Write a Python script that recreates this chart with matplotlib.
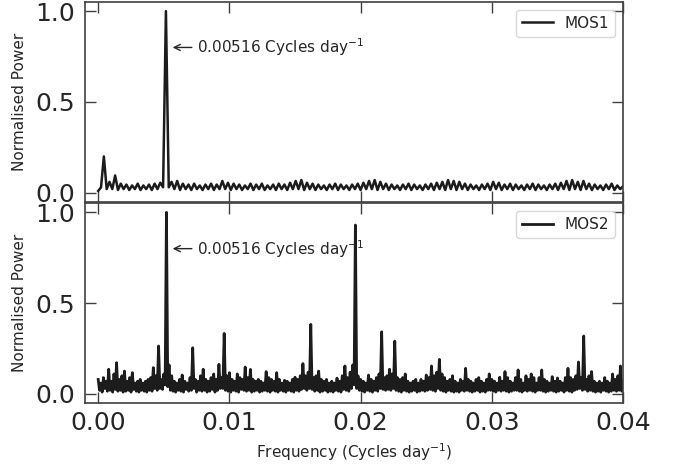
import numpy as np
import matplotlib
matplotlib.use('Agg')
import matplotlib.pyplot as plt

# MOS1 periodogram, sampled every 0.000215 cycles/day
mos1_step = 0.000215
mos1_power = [
    0.01, 0.03, 0.20, 0.02, 0.06, 0.02, 0.095, 0.015, 0.05, 0.02,
    0.045, 0.015, 0.04, 0.02, 0.05, 0.015, 0.04, 0.02, 0.045, 0.015,
    0.05, 0.02, 0.055, 0.03, 1.00, 0.03, 0.06, 0.02, 0.065, 0.015,
    0.05, 0.02, 0.045, 0.015, 0.05, 0.02, 0.04, 0.015, 0.045, 0.02,
    0.05, 0.015, 0.045, 0.02, 0.065, 0.02, 0.055, 0.015, 0.05, 0.02,
    0.045, 0.015, 0.04, 0.02, 0.05, 0.015, 0.045, 0.02, 0.05, 0.015,
    0.04, 0.02, 0.045, 0.015, 0.05, 0.02, 0.045, 0.015, 0.055, 0.02,
    0.065, 0.02, 0.07, 0.015, 0.055, 0.02, 0.05, 0.015, 0.045, 0.02,
    0.04, 0.015, 0.045, 0.02, 0.05, 0.015, 0.045, 0.02, 0.04, 0.015,
    0.045, 0.02, 0.05, 0.015, 0.055, 0.02, 0.065, 0.02, 0.07, 0.015,
    0.06, 0.02, 0.05, 0.015, 0.045, 0.02, 0.04, 0.015, 0.045, 0.02,
    0.05, 0.015, 0.045, 0.02, 0.04, 0.015, 0.045, 0.02, 0.05, 0.015,
    0.055, 0.02, 0.06, 0.015, 0.07, 0.02, 0.065, 0.015, 0.06, 0.02,
    0.05, 0.015, 0.045, 0.02, 0.04, 0.015, 0.045, 0.02, 0.05, 0.015,
    0.06, 0.02, 0.055, 0.015, 0.045, 0.02, 0.05, 0.015, 0.045, 0.02,
    0.04, 0.015, 0.045, 0.02, 0.05, 0.015, 0.045, 0.02, 0.04, 0.015,
    0.045, 0.02, 0.05, 0.015, 0.055, 0.02, 0.065, 0.015, 0.07, 0.02,
    0.06, 0.015, 0.065, 0.02, 0.05, 0.015, 0.045, 0.02, 0.04, 0.015,
    0.045, 0.02, 0.05, 0.015, 0.04, 0.02, 0.035,
]

# MOS2 periodogram, local maxima every 0.0002 and minima in between
mos2_step = 0.0001
mos2_hi = [
    0.08, 0.06, 0.09, 0.07, 0.136, 0.07, 0.11, 0.172, 0.08, 0.10,
    0.126, 0.07, 0.09, 0.117, 0.06, 0.07, 0.08, 0.06, 0.07, 0.08,
    0.09, 0.145, 0.10, 0.264, 0.08, 0.11, 1.00, 0.16, 0.10, 0.07,
    0.06, 0.08, 0.104, 0.07, 0.06, 0.09, 0.254, 0.08, 0.07, 0.10,
    0.136, 0.08, 0.07, 0.09, 0.11, 0.08, 0.163, 0.09, 0.333, 0.10,
    0.117, 0.08, 0.07, 0.11, 0.09, 0.08, 0.148, 0.09, 0.135, 0.08,
    0.07, 0.08, 0.07, 0.06, 0.123, 0.09, 0.08, 0.07, 0.117, 0.08,
    0.06, 0.075, 0.07, 0.06, 0.08, 0.092, 0.08, 0.10, 0.167, 0.10,
    0.12, 0.383, 0.09, 0.10, 0.126, 0.08, 0.07, 0.08, 0.06, 0.07,
    0.06, 0.087, 0.07, 0.10, 0.154, 0.09, 0.12, 0.16, 0.93, 0.10,
    0.08, 0.07, 0.06, 0.104, 0.08, 0.07, 0.09, 0.11, 0.342, 0.09,
    0.10, 0.136, 0.11, 0.291, 0.09, 0.08, 0.09, 0.11, 0.07, 0.06,
    0.07, 0.08, 0.06, 0.08, 0.07, 0.104, 0.09, 0.154, 0.10, 0.12,
    0.19, 0.11, 0.09, 0.07, 0.08, 0.10, 0.07, 0.06, 0.08, 0.07,
    0.141, 0.08, 0.07, 0.06, 0.08, 0.09, 0.07, 0.06, 0.08, 0.11,
    0.08, 0.07, 0.06, 0.092, 0.07, 0.123, 0.09, 0.07, 0.06, 0.09,
    0.132, 0.08, 0.06, 0.10, 0.08, 0.11, 0.09, 0.06, 0.09, 0.132,
    0.08, 0.07, 0.06, 0.095, 0.07, 0.088, 0.07, 0.06, 0.09, 0.141,
    0.09, 0.08, 0.10, 0.176, 0.09, 0.319, 0.08, 0.10, 0.123, 0.07,
    0.06, 0.07, 0.06, 0.09, 0.07, 0.06, 0.11, 0.08, 0.10, 0.154,
    0.07,
]
mos2_lo = [
    0.02, 0.01, 0.03, 0.015, 0.02, 0.01, 0.025, 0.015, 0.02, 0.01,
    0.015, 0.02, 0.01, 0.025, 0.015, 0.01, 0.02, 0.015, 0.01, 0.02,
    0.015, 0.03, 0.02, 0.03, 0.025, 0.05, 0.04, 0.02, 0.015, 0.01,
    0.02, 0.015, 0.01, 0.025, 0.015, 0.02, 0.03, 0.01, 0.02, 0.015,
    0.02, 0.01, 0.015, 0.025, 0.01, 0.02, 0.03, 0.03, 0.02, 0.015,
    0.01, 0.02, 0.015, 0.01, 0.025, 0.02, 0.015, 0.02, 0.01, 0.015,
    0.02, 0.01, 0.015, 0.02, 0.015, 0.01, 0.02, 0.015, 0.01, 0.02,
    0.015, 0.01, 0.02, 0.015, 0.01, 0.02, 0.015, 0.025, 0.03, 0.02,
    0.03, 0.025, 0.015, 0.02, 0.01, 0.015, 0.02, 0.01, 0.015, 0.01,
    0.02, 0.015, 0.01, 0.025, 0.02, 0.015, 0.03, 0.05, 0.03, 0.02,
    0.015, 0.01, 0.02, 0.015, 0.01, 0.02, 0.015, 0.03, 0.025, 0.02,
    0.025, 0.02, 0.03, 0.02, 0.015, 0.01, 0.02, 0.015, 0.01, 0.015,
    0.02, 0.01, 0.015, 0.02, 0.015, 0.02, 0.025, 0.02, 0.015, 0.03,
    0.02, 0.015, 0.01, 0.02, 0.015, 0.01, 0.015, 0.01, 0.02, 0.015,
    0.02, 0.015, 0.01, 0.015, 0.02, 0.01, 0.015, 0.01, 0.02, 0.02,
    0.015, 0.01, 0.02, 0.015, 0.02, 0.015, 0.01, 0.015, 0.02, 0.02,
    0.015, 0.01, 0.02, 0.015, 0.02, 0.015, 0.01, 0.02, 0.02, 0.015,
    0.01, 0.015, 0.02, 0.015, 0.01, 0.015, 0.02, 0.01, 0.02, 0.015,
    0.01, 0.02, 0.025, 0.03, 0.02, 0.025, 0.015, 0.02, 0.015, 0.01,
    0.015, 0.01, 0.02, 0.015, 0.01, 0.015, 0.02, 0.015, 0.02, 0.015,
]

peak_freq = 0.00516
arrow_y = 0.8
xticks = [0.00, 0.01, 0.02, 0.03, 0.04]
yticks = [0.0, 0.5, 1.0]

mos1_freq = np.arange(len(mos1_power)) * mos1_step
mos2_power = np.empty(len(mos2_hi) + len(mos2_lo))
mos2_power[0::2] = mos2_hi
mos2_power[1::2] = mos2_lo
mos2_freq = np.arange(len(mos2_power)) * mos2_step

text_c = '#262626'
spine_c = '#404040'
plt.rcParams['font.family'] = 'DejaVu Sans'
plt.rcParams['text.color'] = text_c

fig = plt.figure(figsize=(6.78, 4.65), dpi=100)
ax1 = fig.add_axes([0.1255, 0.566, 0.7935, 0.4296])
ax2 = fig.add_axes([0.1255, 0.1333, 0.7935, 0.4296])

panels = [(ax1, mos1_freq, mos1_power, 'MOS1', 1.8),
          (ax2, mos2_freq, mos2_power, 'MOS2', 2.0)]

for ax, f, p, name, lw in panels:
    ax.plot(f, p, color='#1c1c1c', lw=lw, label=name)
    ax.set_xlim(-0.001, 0.04)
    ax.set_ylim(-0.05, 1.05)
    ax.set_xticks(xticks)
    ax.set_yticks(yticks)
    ax.tick_params(direction='in', top=True, right=True, length=8, width=1,
                   color=spine_c, labelsize=18, labelcolor=text_c)
    ax.tick_params(axis='y', pad=7)
    ax.tick_params(axis='x', pad=6)
    for s in ax.spines.values():
        s.set_color(spine_c)
        s.set_linewidth(1.2)
    ax.set_ylabel('Normalised Power', fontsize=11, color=text_c, labelpad=6)
    ax.annotate('0.00516 Cycles day$^{-1}$', xy=(peak_freq + 0.0003, arrow_y),
                xytext=(peak_freq + 0.0024, arrow_y), va='center', ha='left',
                fontsize=11, color=text_c,
                arrowprops=dict(arrowstyle='->', color=text_c, lw=1))
    leg = ax.legend(loc='upper right', fontsize=11, handlelength=2.0)
    leg.get_frame().set_edgecolor('#d0d0d0')

ax1.tick_params(labelbottom=False)
ax2.set_xticklabels(['0.00', '0.01', '0.02', '0.03', '0.04'])
ax2.set_xlabel('Frequency (Cycles day$^{-1}$)', fontsize=11, color=text_c, labelpad=4)

fig.savefig('out.png', dpi=100)
